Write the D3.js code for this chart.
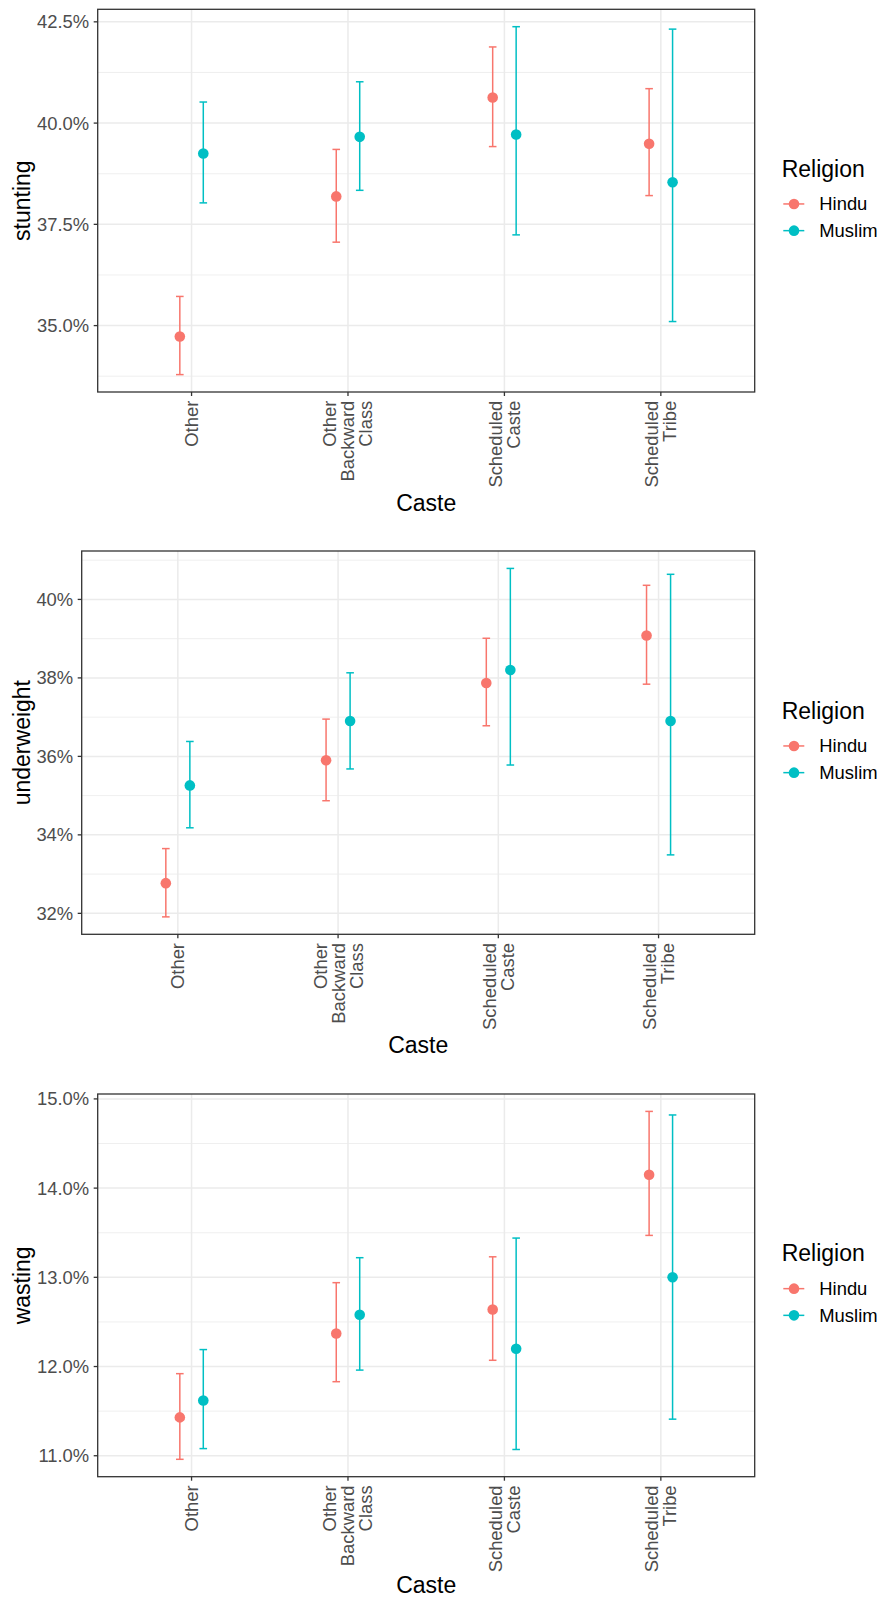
<!DOCTYPE html>
<html>
<head>
<meta charset="utf-8">
<script src="https://cdn.jsdelivr.net/npm/d3@7"></script>
<style>
  html, body { margin: 0; padding: 0; background: #fff; }
  svg { display: block; font-family: "Liberation Sans", Arial, sans-serif; }
</style>
</head>
<body>
<svg id="chart" width="880" height="1598"></svg>
<script>
// ---------- data ----------
const categories = ["Other", "Other\nBackward\nClass", "Scheduled\nCaste", "Scheduled\nTribe"];
const religions = ["Hindu", "Muslim"];
const religionColors = ["#F8766D", "#00BFC4"];

const stuntingHindu      = [34.73, 38.19, 40.63, 39.49];
const stuntingHinduLow   = [33.79, 37.06, 39.42, 38.21];
const stuntingHinduHigh  = [35.72, 39.35, 41.88, 40.85];
const stuntingMuslim     = [39.25, 39.66, 39.72, 38.54];
const stuntingMuslimLow  = [38.03, 38.34, 37.24, 35.10];
const stuntingMuslimHigh = [40.52, 41.02, 42.38, 42.32];
const stuntingTicks      = [35, 37.5, 40, 42.5];

const underweightHindu      = [32.77, 35.90, 37.87, 39.08];
const underweightHinduLow   = [31.91, 34.87, 36.78, 37.84];
const underweightHinduHigh  = [33.65, 36.95, 39.01, 40.36];
const underweightMuslim     = [35.26, 36.90, 38.20, 36.90];
const underweightMuslimLow  = [34.18, 35.68, 35.78, 33.49];
const underweightMuslimHigh = [36.38, 38.13, 40.79, 40.64];
const underweightTicks      = [32, 34, 36, 38, 40];

const wastingHindu      = [11.43, 12.37, 12.64, 14.15];
const wastingHinduLow   = [10.96, 11.83, 12.07, 13.47];
const wastingHinduHigh  = [11.92, 12.94, 13.23, 14.86];
const wastingMuslim     = [11.62, 12.58, 12.20, 13.00];
const wastingMuslimLow  = [11.08, 11.96, 11.07, 11.41];
const wastingMuslimHigh = [12.19, 13.22, 13.44, 14.82];
const wastingTicks      = [11, 12, 13, 14, 15];

// ---------- panel setup ----------
const panels = [
  { title: "stunting", ticks: stuntingTicks, fmt: d3.format(".1f"),
    series: [[stuntingHindu, stuntingHinduLow, stuntingHinduHigh], [stuntingMuslim, stuntingMuslimLow, stuntingMuslimHigh]],
    left: 97.7, right: 754.7, top: 9.3, bottom: 392 },
  { title: "underweight", ticks: underweightTicks, fmt: d3.format(".0f"),
    series: [[underweightHindu, underweightHinduLow, underweightHinduHigh], [underweightMuslim, underweightMuslimLow, underweightMuslimHigh]],
    left: 81.7, right: 754.7, top: 551, bottom: 934.3 },
  { title: "wasting", ticks: wastingTicks, fmt: d3.format(".1f"),
    series: [[wastingHindu, wastingHinduLow, wastingHinduHigh], [wastingMuslim, wastingMuslimLow, wastingMuslimHigh]],
    left: 97.7, right: 754.7, top: 1094, bottom: 1476.7 }
];

const svg = d3.select("#chart");
const H = 1598;
const tickFont = 18.4, titleFont = 23;
const textGrey = "#4D4D4D", gridCol = "#EBEBEB", borderCol = "#333333";
const dodge = 0.075;

panels.forEach(p => {
  const g = svg.append("g");
  const allVals = [];
  p.series.forEach(s => { allVals.push(...s[1], ...s[2]); });
  const [mn, mx] = d3.extent(allVals);
  const pad = (mx - mn) * 0.05;
  const y = d3.scaleLinear().domain([mn - pad, mx + pad]).range([p.bottom, p.top]);
  const x = d3.scalePoint().domain(categories).range([p.left, p.right]).padding(0.6);
  const step = x.step();

  // minor grid
  const tstep = p.ticks[1] - p.ticks[0];
  const minors = p.ticks.map(t => t - tstep / 2).concat([p.ticks[p.ticks.length - 1] + tstep / 2])
    .filter(v => v > y.domain()[0] && v < y.domain()[1]);
  g.selectAll(".minor").data(minors).join("line")
    .attr("x1", p.left).attr("x2", p.right)
    .attr("y1", d => y(d)).attr("y2", d => y(d))
    .attr("stroke", gridCol).attr("stroke-width", 0.8);
  // major grid
  g.selectAll(".major").data(p.ticks).join("line")
    .attr("x1", p.left).attr("x2", p.right)
    .attr("y1", d => y(d)).attr("y2", d => y(d))
    .attr("stroke", gridCol).attr("stroke-width", 1.5);
  g.selectAll(".vgrid").data(categories).join("line")
    .attr("x1", d => x(d)).attr("x2", d => x(d))
    .attr("y1", p.top).attr("y2", p.bottom)
    .attr("stroke", gridCol).attr("stroke-width", 1.5);

  // error bars and points
  p.series.forEach((s, ri) => {
    const col = religionColors[ri];
    const off = (ri === 0 ? -1 : 1) * dodge * step;
    const rows = categories.map((c, i) => ({ c, v: s[0][i], lo: s[1][i], hi: s[2][i] }));
    const eg = g.append("g").attr("stroke", col).attr("stroke-width", 1.5).attr("fill", "none");
    rows.forEach(r => {
      const cx = x(r.c) + off;
      eg.append("line").attr("x1", cx).attr("x2", cx).attr("y1", y(r.lo)).attr("y2", y(r.hi));
      eg.append("line").attr("x1", cx - 3.8).attr("x2", cx + 3.8).attr("y1", y(r.lo)).attr("y2", y(r.lo));
      eg.append("line").attr("x1", cx - 3.8).attr("x2", cx + 3.8).attr("y1", y(r.hi)).attr("y2", y(r.hi));
    });
    g.append("g").selectAll("circle").data(rows).join("circle")
      .attr("cx", r => x(r.c) + off).attr("cy", r => y(r.v)).attr("r", 5.3)
      .attr("fill", col);
  });

  // border
  g.append("rect").attr("x", p.left).attr("y", p.top)
    .attr("width", p.right - p.left).attr("height", p.bottom - p.top)
    .attr("fill", "none").attr("stroke", borderCol).attr("stroke-width", 1.3);

  // y axis ticks and labels
  p.ticks.forEach(t => {
    g.append("line").attr("x1", p.left - 4).attr("x2", p.left)
      .attr("y1", y(t)).attr("y2", y(t)).attr("stroke", borderCol).attr("stroke-width", 1.3);
    g.append("text").attr("x", p.left - 8.5).attr("y", y(t)).attr("dy", "0.35em")
      .attr("text-anchor", "end").attr("font-size", tickFont).attr("fill", textGrey)
      .text(p.fmt(t) + "%");
  });

  // x axis ticks and labels
  categories.forEach(c => {
    const cx = x(c);
    g.append("line").attr("x1", cx).attr("x2", cx).attr("y1", p.bottom).attr("y2", p.bottom + 4)
      .attr("stroke", borderCol).attr("stroke-width", 1.3);
    const lines = c.split("\n");
    lines.forEach((ln, i) => {
      const shift = (i - (lines.length - 1) / 2) * 18;
      g.append("text")
        .attr("transform", `translate(${cx + shift},${p.bottom + 8.7}) rotate(-90)`)
        .attr("dy", "0.35em")
        .attr("text-anchor", "end").attr("font-size", tickFont).attr("fill", textGrey)
        .text(ln);
    });
  });

  // axis titles
  const xtY = Math.min(p.bottom + 118.7, H - 5.5);
  g.append("text").attr("x", (p.left + p.right) / 2).attr("y", xtY)
    .attr("text-anchor", "middle").attr("font-size", titleFont).attr("fill", "#000").text("Caste");
  const cy = (p.top + p.bottom) / 2;
  g.append("text").attr("transform", `translate(30,${cy}) rotate(-90)`)
    .attr("text-anchor", "middle").attr("font-size", titleFont).attr("fill", "#000").text(p.title);

  // legend
  const lg = g.append("g");
  lg.append("text").attr("x", 781.7).attr("y", cy - 24).attr("font-size", titleFont)
    .attr("fill", "#000").text("Religion");
  religions.forEach((r, i) => {
    const ky = cy + 3.3 + i * 26.7;
    lg.append("line").attr("x1", 783.3).attr("x2", 804.3).attr("y1", ky).attr("y2", ky)
      .attr("stroke", religionColors[i]).attr("stroke-width", 1.5);
    lg.append("circle").attr("cx", 794).attr("cy", ky).attr("r", 5.3).attr("fill", religionColors[i]);
    lg.append("text").attr("x", 819.3).attr("y", ky).attr("dy", "0.35em")
      .attr("font-size", tickFont).attr("fill", "#000").text(r);
  });
});
</script>
</body>
</html>
